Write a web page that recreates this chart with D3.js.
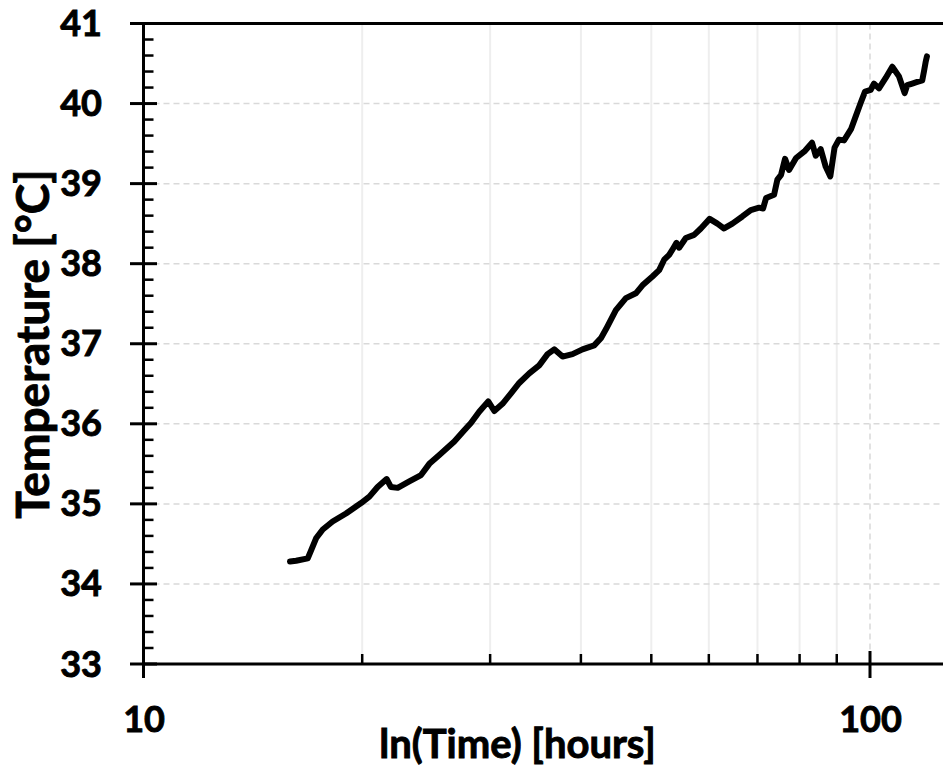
<!DOCTYPE html>
<html>
<head>
<meta charset="utf-8">
<script src="https://cdn.jsdelivr.net/npm/d3@7"></script>
<style>
  html, body { margin: 0; padding: 0; background: #fff; overflow: hidden; }
  svg { display: block; }
  text { font-family: Lato, "Open Sans", sans-serif; font-weight: bold; fill: #000; stroke: #000; stroke-width: 0.9px; }
</style>
</head>
<body>
<div id="chart"></div>
<script>
// ---- data ----
const timeHours = [15.91, 16.22, 16.83, 17.01, 17.28, 17.65, 18.21, 19.00, 19.93, 20.46,
  21.00, 21.61, 21.91, 22.38, 23.22, 24.10, 24.74, 25.54, 26.78, 27.64,
  28.23, 28.98, 29.82, 30.40, 31.20, 32.05, 32.90, 33.96, 35.05, 35.99,
  36.76, 37.74, 38.95, 40.20, 41.72, 42.62, 43.30, 44.69, 46.13, 47.61,
  48.62, 50.18, 51.26, 52.08, 52.91, 53.58, 54.15, 54.61, 55.78, 57.27,
  58.50, 60.15, 61.65, 62.97, 64.65, 66.73, 68.53, 70.36, 71.26, 71.94,
  73.78, 74.56, 75.44, 76.40, 77.37, 79.11, 81.39, 83.22, 84.20, 85.55,
  86.91, 88.18, 89.37, 90.65, 92.10, 94.16, 95.57, 97.10, 98.43, 100.22,
  101.27, 102.89, 105.10, 107.32, 109.62, 111.61, 112.54, 114.33, 116.16, 118.01,
  118.65, 119.29, 119.78];
const temperatureC = [34.28, 34.29, 34.32, 34.42, 34.57, 34.68, 34.78, 34.88, 35.01, 35.09,
  35.21, 35.31, 35.21, 35.20, 35.28, 35.36, 35.50, 35.61, 35.78, 35.92,
  36.01, 36.15, 36.28, 36.16, 36.25, 36.38, 36.51, 36.63, 36.73, 36.87,
  36.93, 36.84, 36.87, 36.93, 36.98, 37.07, 37.18, 37.42, 37.57, 37.63,
  37.73, 37.84, 37.92, 38.05, 38.11, 38.19, 38.26, 38.20, 38.32, 38.36,
  38.44, 38.56, 38.50, 38.44, 38.50, 38.59, 38.67, 38.70, 38.69, 38.82,
  38.86, 39.05, 39.11, 39.31, 39.17, 39.32, 39.41, 39.51, 39.35, 39.43,
  39.21, 39.09, 39.45, 39.55, 39.54, 39.68, 39.84, 40.01, 40.15, 40.17,
  40.25, 40.19, 40.32, 40.46, 40.34, 40.13, 40.23, 40.25, 40.27, 40.29,
  40.40, 40.52, 40.59];

const yMajorTicks = [33, 34, 35, 36, 37, 38, 39, 40, 41];
const xMajorTicks = [10, 100];
const xMinorTicks = [20, 30, 40, 50, 60, 70, 80, 90];
const xTickLabels = ["10", "100"];
const xTitle = "ln(Time) [hours]";
const yTitle = "Temperature [°C]";

// ---- layout ----
const W = 943, H = 769;
const x = d3.scaleLog().domain([10, 1000]).range([143.5, 143.5 + 2 * 726.5]);
const y = d3.scaleLinear().domain([33, 41]).range([664, 23.5]);
const xLeft = x(10), xRight = W + 20;
const yTop = y(41), yBot = y(33);

const svg = d3.select("#chart").append("svg").attr("width", W).attr("height", H);

// gridlines
const grid = svg.append("g");
grid.selectAll("line.vmin").data(xMinorTicks).join("line")
  .attr("x1", d => x(d)).attr("x2", d => x(d))
  .attr("y1", yTop).attr("y2", yBot)
  .attr("stroke", "#eeeeee").attr("stroke-width", 2);
grid.selectAll("line.vmaj").data([100]).join("line")
  .attr("x1", d => x(d)).attr("x2", d => x(d))
  .attr("y1", yTop).attr("y2", yBot)
  .attr("stroke", "#d9d9d9").attr("stroke-width", 1.5).attr("stroke-dasharray", "6,4");
grid.selectAll("line.h").data(yMajorTicks.filter(v => v > 33 && v < 41)).join("line")
  .attr("x1", xLeft).attr("x2", xRight)
  .attr("y1", d => y(d)).attr("y2", d => y(d))
  .attr("stroke", "#d9d9d9").attr("stroke-width", 1.5).attr("stroke-dasharray", "6,4");

// data line
const data = timeHours.map((t, i) => ({ t, T: temperatureC[i] }));
svg.append("path").datum(data)
  .attr("fill", "none").attr("stroke", "#000").attr("stroke-width", 6)
  .attr("stroke-linejoin", "round").attr("stroke-linecap", "round")
  .attr("d", d3.line().x(d => x(d.t)).y(d => y(d.T)));

// frame: top border, y axis line, x axis line
svg.append("line").attr("x1", xLeft).attr("x2", xRight).attr("y1", yTop).attr("y2", yTop)
  .attr("stroke", "#000").attr("stroke-width", 3);
svg.append("line").attr("x1", xLeft).attr("x2", xLeft).attr("y1", yTop).attr("y2", yBot)
  .attr("stroke", "#000").attr("stroke-width", 3);
svg.append("line").attr("x1", xLeft).attr("x2", xRight).attr("y1", yBot).attr("y2", yBot)
  .attr("stroke", "#000").attr("stroke-width", 3);

// y ticks
const yMinor = d3.range(33, 41.001, 0.2).map(v => +v.toFixed(1)).filter(v => Math.abs(v - Math.round(v)) > 1e-6);
svg.append("g").selectAll("line").data(yMinor).join("line")
  .attr("x1", xLeft).attr("x2", xLeft + 10)
  .attr("y1", d => y(d)).attr("y2", d => y(d))
  .attr("stroke", "#000").attr("stroke-width", 2.5);
svg.append("g").selectAll("line").data(yMajorTicks).join("line")
  .attr("x1", xLeft - 13.5).attr("x2", xLeft + 13.5)
  .attr("y1", d => y(d)).attr("y2", d => y(d))
  .attr("stroke", "#000").attr("stroke-width", 3);
const yAxis = d3.axisLeft(y).tickValues(yMajorTicks).tickSize(0).tickPadding(0).tickFormat(d3.format("d"));
const gy = svg.append("g").attr("transform", `translate(${102},0)`).call(yAxis);
gy.select(".domain").remove();
gy.selectAll("text").attr("font-size", 36).attr("dy", null).attr("y", 12)
  .attr("x", 0).attr("text-anchor", "end")
  .style("font-family", "Lato, 'Open Sans', sans-serif").style("font-weight", "bold");

// x ticks
svg.append("g").selectAll("line").data(xMinorTicks).join("line")
  .attr("x1", d => x(d)).attr("x2", d => x(d))
  .attr("y1", yBot - 10).attr("y2", yBot)
  .attr("stroke", "#000").attr("stroke-width", 2.5);
svg.append("g").selectAll("line").data(xMajorTicks).join("line")
  .attr("x1", d => x(d)).attr("x2", d => x(d))
  .attr("y1", yBot - 13).attr("y2", yBot + 14)
  .attr("stroke", "#000").attr("stroke-width", 3);
const xAxis = d3.axisBottom(x).tickValues(xMajorTicks).tickSize(0).tickPadding(0)
  .tickFormat((d, i) => xTickLabels[i]);
const gx = svg.append("g").attr("transform", `translate(0,${732})`).call(xAxis);
gx.select(".domain").remove();
gx.selectAll("text").attr("font-size", 36).attr("dy", null).attr("y", 0)
  .style("font-family", "Lato, 'Open Sans', sans-serif").style("font-weight", "bold");

// axis titles
svg.append("text").attr("x", 517.5).attr("y", 758).attr("text-anchor", "middle")
  .attr("font-size", 40).text(xTitle);
svg.append("text").attr("transform", `translate(49,344) rotate(-90)`)
  .attr("text-anchor", "middle").attr("font-size", 46).text(yTitle);
</script>
</body>
</html>
